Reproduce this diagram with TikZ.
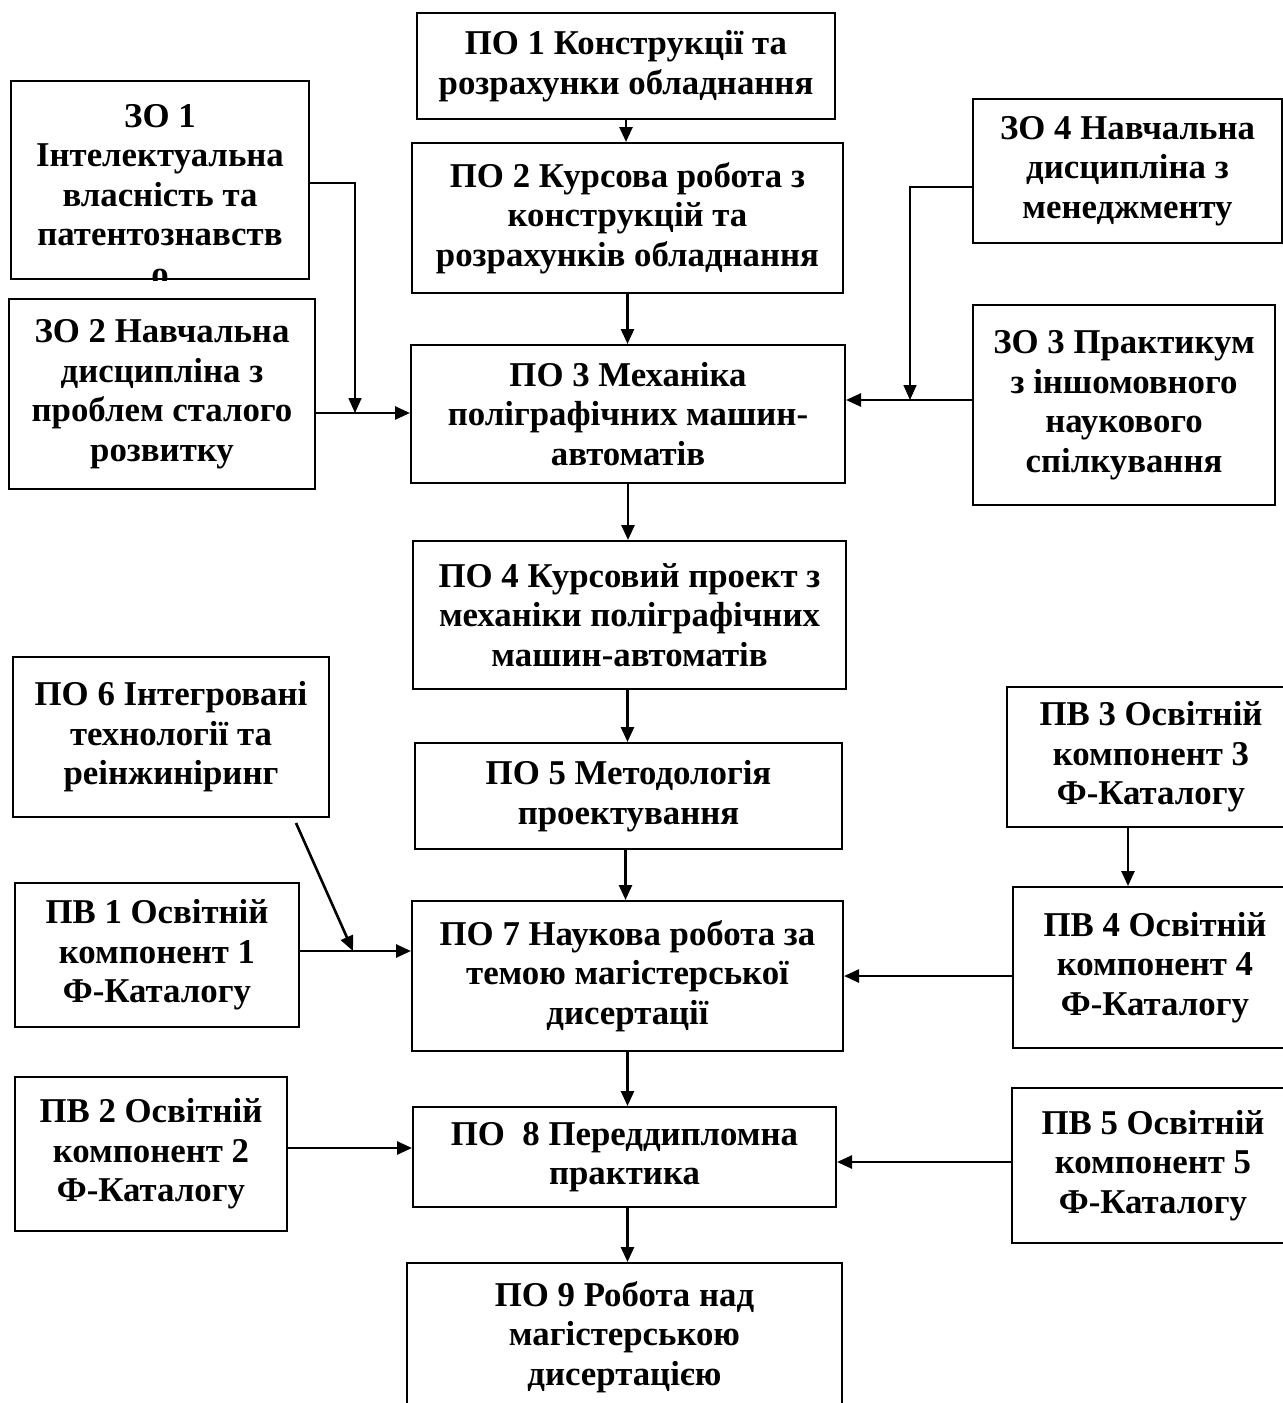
\documentclass[tikz,border=0pt]{standalone}
\usepackage{fontspec}
\setmainfont{Liberation Serif}
\usetikzlibrary{arrows.meta,calc}
\tikzset{
  txt/.style={inner sep=0pt, align=center, font=\bfseries\fontsize{17.4}{19.75}\selectfont},
  box/.style={txt, draw=black, line width=1pt},
  arr/.style={line width=1.3pt, -{Triangle[length=7.5pt,width=6.5pt]}},
  thinarr/.style={line width=0.8pt, -{Triangle[length=7.5pt,width=6.5pt]}},
}
\begin{document}
\begin{tikzpicture}[x=0.5pt,y=-0.5pt]
\useasboundingbox (0,0) rectangle (1283,1403);
\clip (0,0) rectangle (1283,1403);
% boxes
\node[box, minimum width=209pt, minimum height=53pt] (PO1) at (626,66) {ПО 1 Конструкції та\\розрахунки обладнання};
\node[box, minimum width=149pt, minimum height=99pt] (ZO1) at (160,180) {};
\begin{scope}
  \clip (ZO1.south west) rectangle (ZO1.north east);
  \node[txt, anchor=north] (ZO1t) at (160,104) {ЗО 1\\Інтелектуальна\\власність та\\патентознавств\\о};
\end{scope}
\node[box, minimum width=215.5pt, minimum height=75pt] (PO2) at (627.5,218) {ПО 2 Курсова робота з\\конструкцій та\\розрахунків обладнання};
\node[box, minimum width=154.5pt, minimum height=72pt] (ZO4) at (1127.5,171) {ЗО 4 Навчальна\\дисципліна з\\менеджменту};
\node[box, minimum width=153pt, minimum height=95pt] (ZO2) at (162,394) {ЗО 2 Навчальна\\дисципліна з\\проблем сталого\\розвитку};
\node[box, minimum width=217pt, minimum height=69pt] (PO3) at (628,414) {ПО 3 Механіка\\поліграфічних машин-\\автоматів};
\node[box, minimum width=151pt, minimum height=100pt] (ZO3) at (1124,405) {ЗО 3 Практикум\\з іншомовного\\наукового\\спілкування};
\node[box, minimum width=216.5pt, minimum height=74pt] (PO4) at (629.5,615) {ПО 4 Курсовий проект з\\механіки поліграфічних\\машин-автоматів};
\node[box, minimum width=158pt, minimum height=80pt] (PO6) at (171,737) {ПО 6 Інтегровані\\технології та\\реінжиніринг};
\node[box, minimum width=213.5pt, minimum height=53pt] (PO5) at (628.5,796) {ПО 5 Методологія\\проектування};
\node[box, minimum width=144pt, minimum height=70pt] (PV3) at (1151,757) {ПВ 3 Освітній\\компонент 3\\Ф-Каталогу};
\node[box, minimum width=142pt, minimum height=72pt] (PV1) at (157,955) {ПВ 1 Освітній\\компонент 1\\Ф-Каталогу};
\node[box, minimum width=215.5pt, minimum height=75pt] (PO7) at (627.5,976) {ПО 7 Наукова робота за\\темою магістерської\\дисертації};
\node[box, minimum width=142pt, minimum height=80.5pt] (PV4) at (1155,967.5) {ПВ 4 Освітній\\компонент 4\\Ф-Каталогу};
\node[box, minimum width=136pt, minimum height=77pt] (PV2) at (151,1154) {ПВ 2 Освітній\\компонент 2\\Ф-Каталогу};
\node[box, minimum width=211.5pt, minimum height=50pt] (PO8) at (624.5,1157) {ПО\ \ 8 Переддипломна\\практика};
\node[box, minimum width=141pt, minimum height=77.5pt] (PV5) at (1153,1165.5) {ПВ 5 Освітній\\компонент 5\\Ф-Каталогу};
\node[box, minimum width=217.5pt, minimum height=74pt] (PO9) at (624.5,1337) {ПО 9 Робота над\\магістерською\\дисертацією};
% junction points
\coordinate (j1) at (355,413);
\coordinate (j2) at (910,400);
\coordinate (j3) at (353,951);
\coordinate (c34) at (1128,0);
\coordinate (j5) at (0,1148);
\coordinate (j6) at (0,1162);
\coordinate (a45) at ($(PO4.south)+(-2,0)$);
\coordinate (a57) at ($(PO5.south)+(-3,0)$);
\coordinate (a89) at ($(PO8.south)+(3,0)$);
\coordinate (s1) at ($(ZO1.east)+(0,3)$);
\coordinate (s4) at ($(ZO4.west)+(0,16)$);
\coordinate (s6) at ($(PO6.south east)+(-34,5)$);
% main chain
\draw[arr] (PO1.south) -- (PO1.south |- PO2.north);
\draw[arr] (PO2.south) -- (PO2.south |- PO3.north);
\draw[arr] (PO3.south) -- (PO3.south |- PO4.north);
\draw[arr] (a45) -- (a45 |- PO5.north);
\draw[arr] (a57) -- (a57 |- PO7.north);
\draw[arr] (PO7.south) -- (PO7.south |- PO8.north);
\draw[arr] (a89) -- (a89 |- PO9.north);
% side inputs
\draw[thinarr] (s1) -| (j1);
\draw[arr] (ZO2.east |- j1) -- (PO3.west |- j1);
\draw[thinarr] (s4) -| (j2);
\draw[arr] (ZO3.west |- j2) -- (PO3.east |- j2);
\draw[arr] (s6) -- (j3);
\draw[arr] (PV1.east |- j3) -- (PO7.west |- j3);
\draw[arr] (PV3.south -| c34) -- (PV4.north -| c34);
\draw[arr] (PV4.west |- PO7.east) -- (PO7.east);
\draw[arr] (PV2.east |- j5) -- (PO8.west |- j5);
\draw[arr] (PV5.west |- j6) -- (PO8.east |- j6);
\end{tikzpicture}
\end{document}
